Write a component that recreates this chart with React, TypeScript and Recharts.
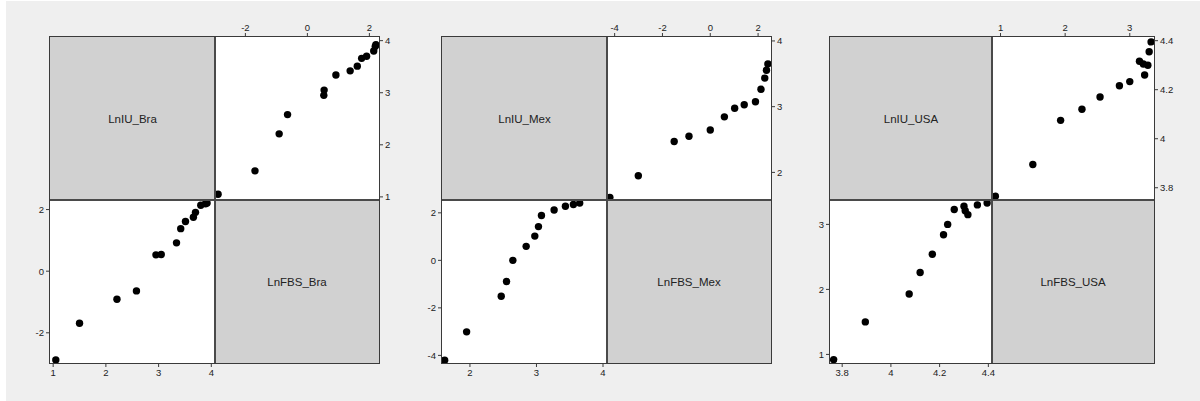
import React from "react";
import { ScatterChart, Scatter, XAxis, YAxis } from "recharts";

// values
const braIU = [1.05, 1.5, 2.21, 2.58, 2.95, 3.05, 3.34, 3.42, 3.51, 3.66, 3.7, 3.8, 3.89, 3.92];
const braFBS = [-2.88, -1.69, -0.91, -0.64, 0.53, 0.54, 0.92, 1.38, 1.61, 1.75, 1.91, 2.14, 2.19, 2.21];

const mexIU = [1.62, 1.95, 2.47, 2.55, 2.645, 2.845, 2.975, 3.03, 3.075, 3.265, 3.435, 3.555, 3.65];
const mexFBS = [-4.2, -3.01, -1.51, -0.89, 0.0, 0.59, 1.02, 1.42, 1.89, 2.12, 2.28, 2.35, 2.41];

const usaIU = [3.765, 3.895, 4.075, 4.12, 4.17, 4.216, 4.233, 4.26, 4.3, 4.305, 4.316, 4.355, 4.395];
const usaFBS = [0.92, 1.5, 1.93, 2.26, 2.54, 2.84, 3.0, 3.23, 3.28, 3.21, 3.15, 3.3, 3.33];

const braIUTicks = [1, 2, 3, 4];
const braFBSTicks = [-2, 0, 2];
const mexIUTicks = [2, 3, 4];
const mexFBSTicks = [-4, -2, 0, 2];
const usaIUTicks = [3.8, 4, 4.2, 4.4];
const usaFBSTicks = [1, 2, 3];

const braIUDomain = [0.94, 4.07];
const braFBSDomain = [-2.98, 2.31];
const mexIUDomain = [1.58, 4.06];
const mexFBSDomain = [-4.32, 2.54];
const usaIUDomain = [3.75, 4.415];
const usaFBSDomain = [0.868, 3.375];

const toRows = (iu: number[], fbs: number[]) => iu.map((v, i) => ({ iu: v, fbs: fbs[i] }));

const panels = [
  { iuLabel: "LnIU_Bra", fbsLabel: "LnFBS_Bra", rows: toRows(braIU, braFBS), iuTicks: braIUTicks, fbsTicks: braFBSTicks, iuDomain: braIUDomain, fbsDomain: braFBSDomain, L: 50, M: 215, R: 379 },
  { iuLabel: "LnIU_Mex", fbsLabel: "LnFBS_Mex", rows: toRows(mexIU, mexFBS), iuTicks: mexIUTicks, fbsTicks: mexFBSTicks, iuDomain: mexIUDomain, fbsDomain: mexFBSDomain, L: 442, M: 607, R: 771 },
  { iuLabel: "LnIU_USA", fbsLabel: "LnFBS_USA", rows: toRows(usaIU, usaFBS), iuTicks: usaIUTicks, fbsTicks: usaFBSTicks, iuDomain: usaIUDomain, fbsDomain: usaFBSDomain, L: 830, M: 992, R: 1154 },
];

const T = 37;
const D = 200;
const B = 363;
const lineColor = "#3a3a3a";
const tickStyle = { fontSize: 9.5, fill: "#222", fontFamily: "'Liberation Sans', Arial, sans-serif" };

const Dot = (p: any) => <circle cx={p.cx} cy={p.cy} r={3.7} fill="#000" />;

function Cell({ rows, xKey, yKey, xDomain, yDomain, xTicks, yTicks, left, top, width, height, lower }: any) {
  const chartW = width + 45;
  const chartH = lower ? height + 30 : height + 35;
  const style: React.CSSProperties = {
    position: "absolute",
    left: lower ? left - 40 : left - 5,
    top: lower ? top - 5 : top - 30,
  };
  const margin = lower ? { top: 5, right: 5, bottom: 0, left: 0 } : { top: 0, right: 0, bottom: 5, left: 5 };
  return (
    <div style={style}>
      <ScatterChart width={chartW} height={chartH} margin={margin} style={{ overflow: "visible" }}>
        <XAxis
          type="number"
          dataKey={xKey}
          domain={xDomain}
          ticks={xTicks}
          allowDataOverflow
          orientation={lower ? "bottom" : "top"}
          height={lower ? 25 : 30}
          axisLine={false}
          tickSize={4}
          tick={tickStyle}
          tickLine={{ stroke: lineColor }}
          interval={0}
        />
        <YAxis
          type="number"
          dataKey={yKey}
          domain={yDomain}
          ticks={yTicks}
          allowDataOverflow
          orientation={lower ? "left" : "right"}
          width={40}
          axisLine={false}
          tickSize={4}
          tick={tickStyle}
          tickLine={{ stroke: lineColor }}
          interval={0}
        />
        <Scatter data={rows} shape={Dot} isAnimationActive={false} />
      </ScatterChart>
    </div>
  );
}

function Panel({ p }: any) {
  const w1 = p.M - p.L;
  const w2 = p.R - p.M;
  const h1 = D - T;
  const h2 = B - D;
  const label: React.CSSProperties = {
    position: "absolute",
    display: "flex",
    alignItems: "center",
    justifyContent: "center",
    fontSize: 11.5,
    color: "#222",
    fontFamily: "'Liberation Sans', Arial, sans-serif",
    background: "#d1d1d1",
  };
  return (
    <>
      <div style={{ ...label, left: p.L, top: T, width: w1, height: h1 }}>{p.iuLabel}</div>
      <div style={{ position: "absolute", left: p.M, top: T, width: w2, height: h1, background: "#fff" }} />
      <div style={{ position: "absolute", left: p.L, top: D, width: w1, height: h2, background: "#fff" }} />
      <div style={{ ...label, left: p.M, top: D, width: w2, height: h2 }}>{p.fbsLabel}</div>
      <Cell rows={p.rows} xKey="iu" yKey="fbs" xDomain={p.iuDomain} yDomain={p.fbsDomain} xTicks={p.iuTicks} yTicks={p.fbsTicks}
        left={p.L} top={D} width={w1} height={h2} lower />
      <Cell rows={p.rows} xKey="fbs" yKey="iu" xDomain={p.fbsDomain} yDomain={p.iuDomain} xTicks={p.fbsTicks} yTicks={p.iuTicks}
        left={p.M} top={T} width={w2} height={h1} lower={false} />
      <div style={{ position: "absolute", left: p.L - 0.75, top: T - 0.75, width: p.R - p.L, height: B - T, border: `1.5px solid ${lineColor}`, pointerEvents: "none" }} />
      <div style={{ position: "absolute", left: p.M - 0.75, top: T, width: 1.5, height: B - T, background: "#4a4a4a", pointerEvents: "none" }} />
      <div style={{ position: "absolute", left: p.L, top: D - 0.75, width: p.R - p.L, height: 1.5, background: "#4a4a4a", pointerEvents: "none" }} />
    </>
  );
}

export default function App() {
  return (
    <div style={{ position: "fixed", left: 0, top: 0, width: 1200, height: 401, background: "#fff", overflow: "hidden" }}>
      <div style={{ position: "absolute", left: 6, top: 1, width: 1194, height: 400, background: "#efefef" }} />
      {panels.map((p) => (
        <Panel key={p.iuLabel} p={p} />
      ))}
    </div>
  );
}
